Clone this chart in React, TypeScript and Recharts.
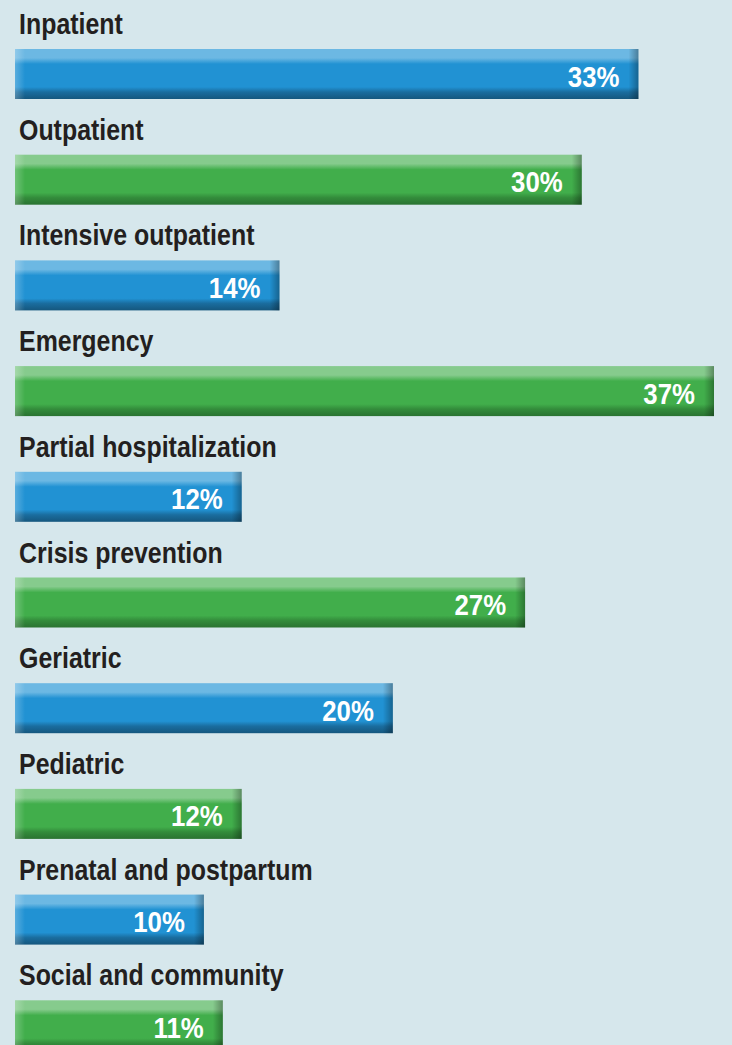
import { BarChart, Bar, XAxis, YAxis, LabelList } from 'recharts'

const categories = [
  'Inpatient',
  'Outpatient',
  'Intensive outpatient',
  'Emergency',
  'Partial hospitalization',
  'Crisis prevention',
  'Geriatric',
  'Pediatric',
  'Prenatal and postpartum',
  'Social and community',
]
const values = [33, 30, 14, 37, 12, 27, 20, 12, 10, 11]
const seriesColors = ['blue', 'green']

const data = categories.map((name, i) => ({ name, value: values[i] }))

const PALETTE: Record<string, { hi: string; main: string; lo: string; edge: string }> = {
  blue: { hi: '#6cb8e3', main: '#2192d3', lo: '#15577e', edge: '#1a6d9f' },
  green: { hi: '#86cb8d', main: '#41ae4b', lo: '#2a7331', edge: '#338c3b' },
}

// narrow bold face, squeezed a bit more to get the condensed look
const FONT = '"Liberation Sans", Arial, sans-serif'
const SQUEEZE = 0.86

function BevelBar(props: any) {
  const { x, y, width, height, index } = props
  const key = seriesColors[index % seriesColors.length]
  return (
    <g>
      <rect x={x} y={y} width={width} height={height} fill={`url(#v-${key})`} />
      <rect x={x} y={y} width={10} height={height} fill="url(#left-hi)" />
      <rect x={x + width - 10} y={y} width={10} height={height} fill="url(#right-lo)" />
    </g>
  )
}

function NameLabel(props: any) {
  const { x, y, index } = props
  return (
    <text
      transform={`translate(${x + 4},${y - 15}) scale(${SQUEEZE},1)`}
      fill="#231f20"
      fontSize={29}
      fontWeight={700}
      fontFamily={FONT}
    >
      {categories[index]}
    </text>
  )
}

function ValueLabel(props: any) {
  const { x, y, width, index } = props
  return (
    <text
      transform={`translate(${x + width - 19},${y + 37.5}) scale(${SQUEEZE},1)`}
      fill="#ffffff"
      fontSize={30}
      fontWeight={700}
      fontFamily={FONT}
      textAnchor="end"
    >
      {values[index]}%
    </text>
  )
}

export default function App() {
  return (
    <div
      style={{
        position: 'absolute',
        top: 0,
        left: 0,
        width: 732,
        height: 1045,
        overflow: 'hidden',
        background: '#d6e7ec',
      }}
    >
      <BarChart
        width={732}
        height={1080}
        data={data}
        layout="vertical"
        margin={{ top: 21, right: 18, bottom: 2, left: 15 }}
        barCategoryGap={0}
      >
        <defs>
          {Object.keys(PALETTE).map((k) => (
            <linearGradient key={k} id={`v-${k}`} x1="0" y1="0" x2="0" y2="1">
              <stop offset="0" stopColor={PALETTE[k].hi} />
              <stop offset="0.18" stopColor={PALETTE[k].hi} />
              <stop offset="0.3" stopColor={PALETTE[k].main} />
              <stop offset="0.76" stopColor={PALETTE[k].main} />
              <stop offset="0.86" stopColor={PALETTE[k].edge} />
              <stop offset="1" stopColor={PALETTE[k].lo} />
            </linearGradient>
          ))}
          <linearGradient id="left-hi" x1="0" y1="0" x2="1" y2="0">
            <stop offset="0" stopColor="#ffffff" stopOpacity={0.25} />
            <stop offset="1" stopColor="#ffffff" stopOpacity={0} />
          </linearGradient>
          <linearGradient id="right-lo" x1="0" y1="0" x2="1" y2="0">
            <stop offset="0" stopColor="#000000" stopOpacity={0} />
            <stop offset="1" stopColor="#000000" stopOpacity={0.32} />
          </linearGradient>
        </defs>
        <XAxis type="number" domain={[0, 37]} hide />
        <YAxis type="category" dataKey="name" hide />
        <Bar dataKey="value" barSize={50} shape={<BevelBar />} isAnimationActive={false}>
          <LabelList dataKey="name" content={<NameLabel />} />
          <LabelList dataKey="value" content={<ValueLabel />} />
        </Bar>
      </BarChart>
    </div>
  )
}
